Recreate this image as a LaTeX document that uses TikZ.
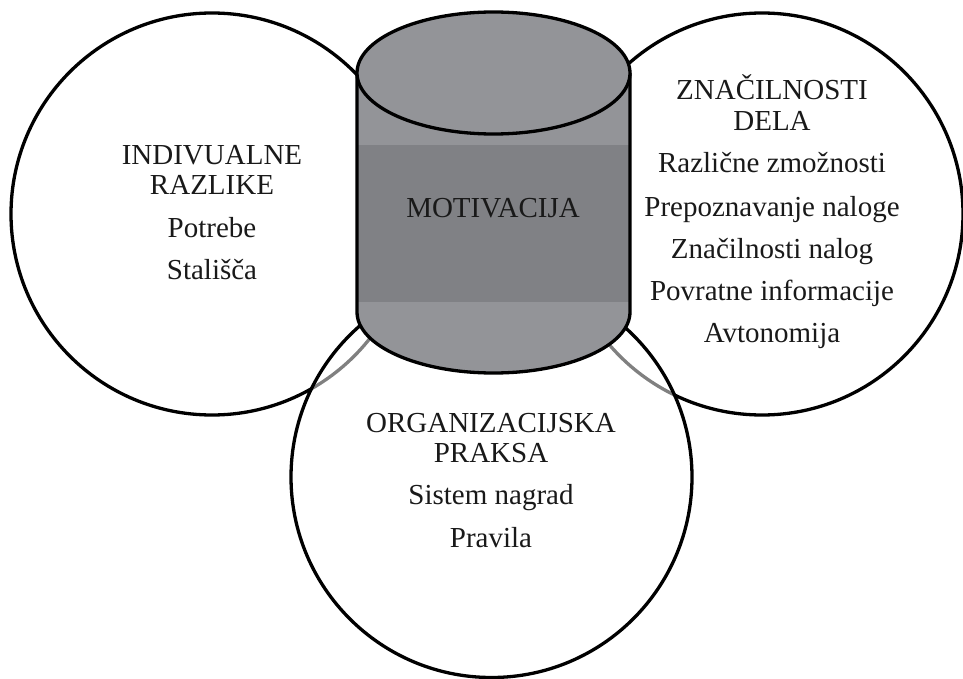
\documentclass[tikz,border=0pt]{standalone}
\usepackage{fontspec}
\setmainfont{Liberation Serif}
\definecolor{cyllight}{HTML}{939498}
\definecolor{cyldark}{HTML}{808185}
\begin{document}
\begin{tikzpicture}[x=1pt,y=-1pt,
  ring/.style={circle,draw=black,line width=3.3pt,minimum size=402pt,inner sep=0pt},
  txt/.style={anchor=base,inner sep=0pt,font=\fontsize{29}{34}\selectfont,text=black!90}]
\useasboundingbox (0,0) rectangle (963,679);
% side circles
\node[ring] (L) at (212,214) {};
\node[ring] (R) at (762,214) {};
% bottom circle, half transparent over the others
\node[ring,fill=white,fill opacity=0.5,minimum size=401pt] (B) at (491.5,477) {};
% cylinder
\coordinate (cyltop) at (493.5,73);
\coordinate (cylbot) at (493.5,312);
\fill[cyllight] (357,73) -- (357,312) arc[start angle=180,end angle=360,x radius=136.5,y radius=-61] -- (630,73) -- cycle;
\fill[cyldark] (357,145) rectangle (630,302);
\draw[line width=3.3pt,line join=round] (357,73) -- (357,312) arc[start angle=180,end angle=360,x radius=136.5,y radius=-61] -- (630,73);
\draw[line width=3.3pt,fill=cyllight] (cyltop) ellipse[x radius=136.5,y radius=61];
% texts
\node[txt] (m) at (493,218) {MOTIVACIJA};
\node[txt] (l1) at (212,165) {INDIVUALNE};
\node[txt] (l2) at (212,194) {RAZLIKE};
\node[txt] (l3) at (212,237) {Potrebe};
\node[txt] (l4) at (212,279) {Stališča};
\node[txt] (r1) at (772,100) {ZNAČILNOSTI};
\node[txt] (r2) at (772,131) {DELA};
\node[txt] (r3) at (772,173) {Različne zmožnosti};
\node[txt] (r4) at (772,216) {Prepoznavanje naloge};
\node[txt] (r5) at (772,258) {Značilnosti nalog};
\node[txt] (r6) at (772,300) {Povratne informacije};
\node[txt] (r7) at (772,342) {Avtonomija};
\node[txt] (b1) at (491,432) {ORGANIZACIJSKA};
\node[txt] (b2) at (491,462) {PRAKSA};
\node[txt] (b3) at (491,504) {Sistem nagrad};
\node[txt] (b4) at (491,547) {Pravila};
\end{tikzpicture}
\end{document}
